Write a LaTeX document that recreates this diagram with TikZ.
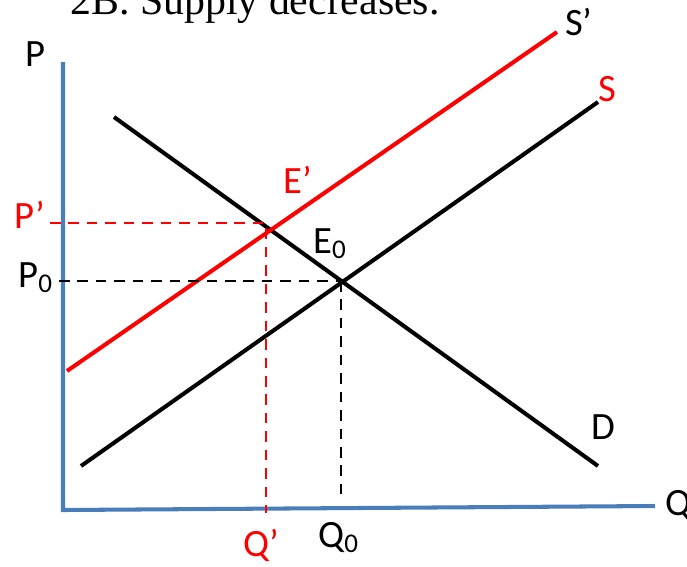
\documentclass[tikz,border=0pt]{standalone}
\usepackage{fontspec}
\setmainfont{Carlito}
\newfontfamily\titlefont{Liberation Serif}
\usetikzlibrary{positioning}
\definecolor{axisblue}{RGB}{74,126,187}
\definecolor{shiftred}{RGB}{255,0,0}

\begin{document}
\begin{tikzpicture}[
      x=0.02cm,y=-0.02cm,
      every node/.style={font=\fontsize{22}{26}\selectfont,inner sep=0pt},
      axis/.style={draw=axisblue,line width=2.3pt},
      curve/.style={draw=black,line width=2.3pt},
      shifted/.style={draw=shiftred,line width=2.3pt},
      guide/.style={draw=black,line width=1.6pt,dash pattern=on 6pt off 4.5pt},
      shiftguide/.style={draw=shiftred,line width=1.6pt,dash pattern=on 6pt off 4.5pt},
      lbl/.style={anchor=base west},
      redlbl/.style={anchor=base west,text=shiftred}
    ]
    \clip (0,0) rectangle (687,566);
    % title, cut by the top edge
    \node[anchor=base west,font=\titlefont\fontsize{23.8}{28}\selectfont] (title) at (70,14) {2B. Supply decreases.};
    % axes
    \coordinate (top) at (63,62);
    \coordinate (origin) at (63,510);
    \coordinate (right) at (655,506);
    \draw[axis] (top) -- (origin) -- (right);
    \node[lbl] (plabel) at (25,66) {P};
    \node[lbl] (qlabel) at (665,515) {Q};
    % demand
    \coordinate (d1) at (114,117);
    \coordinate (d2) at (598,466);
    \draw[curve] (d1) -- (d2);
    \node[lbl] (dlabel) at (591,439) {D};
    % supply before and after
    \coordinate (s1) at (81,466);
    \coordinate (s2) at (598,102);
    \draw[curve] (s1) -- (s2);
    \node[redlbl] (slabel) at (598,101) {S};
    \coordinate (sp1) at (67,371);
    \coordinate (sp2) at (557,32);
    \draw[shifted] (sp1) -- (sp2);
    \node[lbl] (splabel) at (565,35) {S’};
    % equilibria
    \coordinate (e0) at (342,281);
    \coordinate (ep) at (266,223);
    \node[lbl] (e0label) at (313,253) {E\textsubscript{0}};
    \node[redlbl] (eplabel) at (283,193) {E’};
    % guide lines to the axes
    \coordinate (p0) at (59,281);
    \coordinate (e0down) at (341,281);
    \coordinate (q0) at (341,498);
    \coordinate (pp) at (50,223);
    \coordinate (qp) at (266,513);
    \draw[guide] (p0) -- (e0);
    \draw[guide] (e0down) -- (q0);
    \draw[shiftguide] (pp) -- (ep) -- (qp);
    % axis values
    \node[lbl] (p0label) at (18,287) {P\textsubscript{0}};
    \node[redlbl] (pplabel) at (14,228) {P’};
    \node[lbl] (q0label) at (318,547) {Q\textsubscript{0}};
    \node[redlbl] (qplabel) at (243,556) {Q’};
  \end{tikzpicture}
\end{document}
